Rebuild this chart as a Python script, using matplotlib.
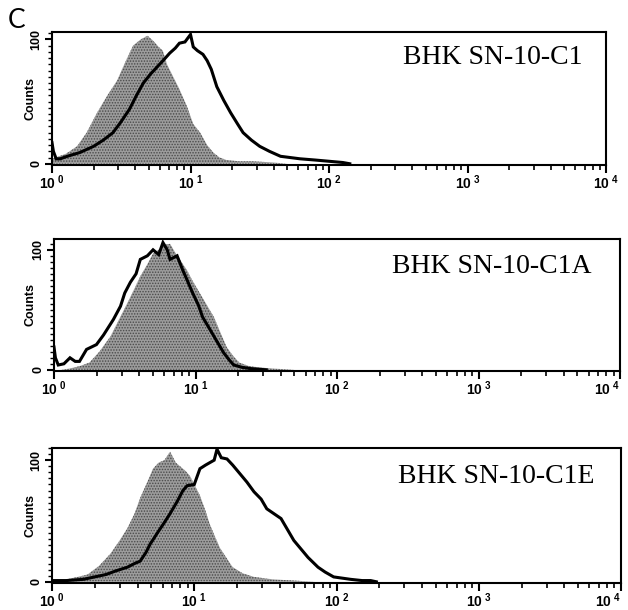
import numpy as np
import matplotlib
matplotlib.use("Agg")
import matplotlib.pyplot as plt
from matplotlib.ticker import FixedLocator, LogLocator, NullFormatter, MultipleLocator

plt.rcParams['mathtext.fontset'] = 'custom'
plt.rcParams['mathtext.bf'] = 'Liberation Sans:bold'
plt.rcParams['mathtext.rm'] = 'Liberation Sans'
plt.rcParams['hatch.linewidth'] = 0.7

# ---------------- data (log10 fluorescence, counts) ----------------
titles = ["BHK SN-10-C1", "BHK SN-10-C1A", "BHK SN-10-C1E"]

# panel 1
p1_gray_log = [0.0, 0.05, 0.10, 0.18, 0.25, 0.325, 0.40, 0.47, 0.53, 0.585, 0.64, 0.69, 0.73,
               0.77, 0.80, 0.83, 0.875, 0.92, 0.975, 1.02, 1.07, 1.12, 1.165, 1.21, 1.26, 1.35,
               1.45, 1.60, 1.70]
p1_gray_cnt = [4, 6, 8, 14, 25, 41, 55, 67, 82, 95, 100, 103, 99,
               94, 91, 80, 70, 60, 46, 32, 25, 15, 9, 5, 3, 2,
               2, 1, 0]
p1_line_log = [0.0, 0.01, 0.03, 0.06, 0.11, 0.20, 0.30, 0.37, 0.44, 0.50, 0.56, 0.61, 0.66,
               0.71, 0.76, 0.81, 0.85, 0.89, 0.92, 0.96, 1.0, 1.02, 1.05, 1.09, 1.12, 1.15,
               1.19, 1.24, 1.29, 1.34, 1.38, 1.44, 1.50, 1.57, 1.65, 1.72, 1.79, 1.90, 2.0,
               2.1, 2.15]
p1_line_cnt = [17, 10, 4, 4, 6, 9, 14, 19, 25, 34, 44, 55, 65,
               72, 78, 84, 89, 93, 97, 98, 104, 94, 91, 88, 83, 76,
               62, 51, 41, 32, 25, 19, 14, 10, 6, 5, 4, 3, 2,
               1, 0]

# panel 2
p2_gray_log = [0.05, 0.11, 0.18, 0.25, 0.32, 0.40, 0.46, 0.52, 0.57, 0.61, 0.66, 0.70, 0.74,
               0.78, 0.82, 0.86, 0.90, 0.94, 0.98, 1.03, 1.08, 1.13, 1.18, 1.22, 1.27, 1.31,
               1.38, 1.45, 1.55, 1.70]
p2_gray_cnt = [0, 1, 3, 6, 15, 28, 42, 56, 68, 78, 88, 97, 100,
               104, 105, 97, 90, 83, 74, 64, 54, 44, 30, 19, 11, 6,
               3, 2, 1, 0]
p2_line_log = [0.0, 0.01, 0.03, 0.07, 0.113, 0.15, 0.18, 0.23, 0.30, 0.35, 0.42, 0.47, 0.50,
               0.54, 0.58, 0.61, 0.66, 0.70, 0.74, 0.77, 0.80, 0.82, 0.87, 0.91, 0.94, 0.98,
               1.02, 1.05, 1.09, 1.13, 1.17, 1.20, 1.24, 1.27, 1.33, 1.39, 1.50]
p2_line_cnt = [19, 10, 4, 5, 10, 7, 7, 17, 21, 29, 42, 53, 64,
               73, 80, 92, 95, 100, 96, 106, 100, 92, 95, 83, 75, 64,
               54, 44, 36, 28, 20, 14, 8, 4, 2, 1, 0]

# panel 3
p3_gray_log = [0.05, 0.10, 0.18, 0.25, 0.33, 0.41, 0.47, 0.53, 0.58, 0.62, 0.67, 0.71, 0.75,
               0.79, 0.83, 0.87, 0.90, 0.94, 0.97, 1.00, 1.04, 1.08, 1.11, 1.15, 1.18, 1.23,
               1.27, 1.34, 1.42, 1.55, 1.70, 1.85]
p3_gray_cnt = [0, 2, 4, 6, 13, 23, 33, 44, 56, 69, 82, 93, 98,
               100, 107, 98, 95, 91, 87, 80, 71, 58, 47, 36, 28, 19,
               12, 7, 4, 2, 1, 0]
p3_line_log = [0.0, 0.10, 0.22, 0.30, 0.38, 0.45, 0.53, 0.58, 0.62, 0.66, 0.69, 0.74, 0.78,
               0.83, 0.88, 0.92, 0.95, 1.00, 1.04, 1.08, 1.11, 1.14, 1.16, 1.19, 1.23, 1.27,
               1.32, 1.37, 1.42, 1.47, 1.51, 1.56, 1.61, 1.66, 1.70, 1.75, 1.80, 1.87, 1.92,
               1.98, 2.04, 2.10, 2.18, 2.24, 2.28]
p3_line_cnt = [1, 1, 2, 4, 6, 9, 12, 15, 17, 24, 31, 40, 47,
               56, 66, 75, 79, 80, 93, 96, 98, 100, 109, 102, 101, 96,
               89, 82, 74, 68, 60, 56, 52, 42, 34, 27, 20, 12, 8,
               4, 3, 2, 1, 1, 0]

panels = [
    (p1_gray_log, p1_gray_cnt, p1_line_log, p1_line_cnt),
    (p2_gray_log, p2_gray_cnt, p2_line_log, p2_line_cnt),
    (p3_gray_log, p3_gray_cnt, p3_line_log, p3_line_cnt),
]
xtick_vals = [1, 10, 100, 1000, 10000]
xtick_labels = [r'$\mathbf{10}^{\ \mathbf{%d}}$' % i for i in range(5)]
ytick_vals = [0, 100]
ytick_labels = ['0', '100']

# ---------------- layout ----------------
W, H = 628, 610
fig = plt.figure(figsize=(W / 100, H / 100), dpi=100)
boxes = [(52, 606, 32, 165), (54, 620, 239, 371), (52, 621, 448, 583)]
ylims = [(-1, 106), (-1, 109), (-1, 110)]
label_pos = [(0.957, 0.81), (0.95, 0.79), (0.953, 0.79)]

for i, ((gl, gc, ll, lc), (l, r, t, b)) in enumerate(zip(panels, boxes)):
    ax = fig.add_axes([l / W, 1 - b / H, (r - l) / W, (b - t) / H])
    gx = 10 ** np.array(gl)
    lx = 10 ** np.array(ll)
    ax.fill_between(gx, 0, gc, facecolor='#9c9c9c', edgecolor='#4a4a4a',
                    hatch='......', linewidth=0, zorder=1)
    ax.plot(lx, lc, color='black', lw=2.2, solid_joinstyle='miter', zorder=3)
    ax.set_xscale('log')
    ax.set_xlim(1, 10000)
    ax.set_ylim(*ylims[i])
    for s in ax.spines.values():
        s.set_linewidth(1.5)
    ax.xaxis.set_major_locator(FixedLocator(xtick_vals))
    ax.set_xticklabels(xtick_labels, fontsize=10)
    if r > 615:
        ax.get_xticklabels()[-1].set_horizontalalignment('right')
    ax.xaxis.set_minor_locator(LogLocator(base=10, subs=np.arange(2, 10)))
    ax.xaxis.set_minor_formatter(NullFormatter())
    ax.tick_params(axis='x', which='major', direction='out', length=6, width=1.5, pad=0)
    ax.tick_params(axis='x', which='minor', direction='out', length=3.5, width=1.2)
    ax.yaxis.set_major_locator(FixedLocator(ytick_vals))
    ax.set_yticklabels(ytick_labels, fontsize=9, fontweight='bold',
                       family='Liberation Sans', rotation=90, va='center')
    ax.yaxis.set_minor_locator(MultipleLocator(5))
    ax.tick_params(axis='y', which='major', direction='out', length=5, width=1.5, pad=2)
    ax.tick_params(axis='y', which='minor', direction='out', length=3, width=1.0)
    ax.set_ylabel('Counts', fontsize=9, fontweight='bold', family='Liberation Sans')
    ax.yaxis.set_label_coords(-(l - 31) / (r - l), 0.5)
    ax.yaxis.label.set_verticalalignment('center')
    ax.text(label_pos[i][0], label_pos[i][1], titles[i], transform=ax.transAxes,
            ha='right', va='center', fontsize=20, family='Liberation Serif')

fig.text(8 / W, 1 - 20 / H, 'C', fontsize=19, family='Lato', ha='left', va='center')

fig.savefig('out.png', dpi=100)
